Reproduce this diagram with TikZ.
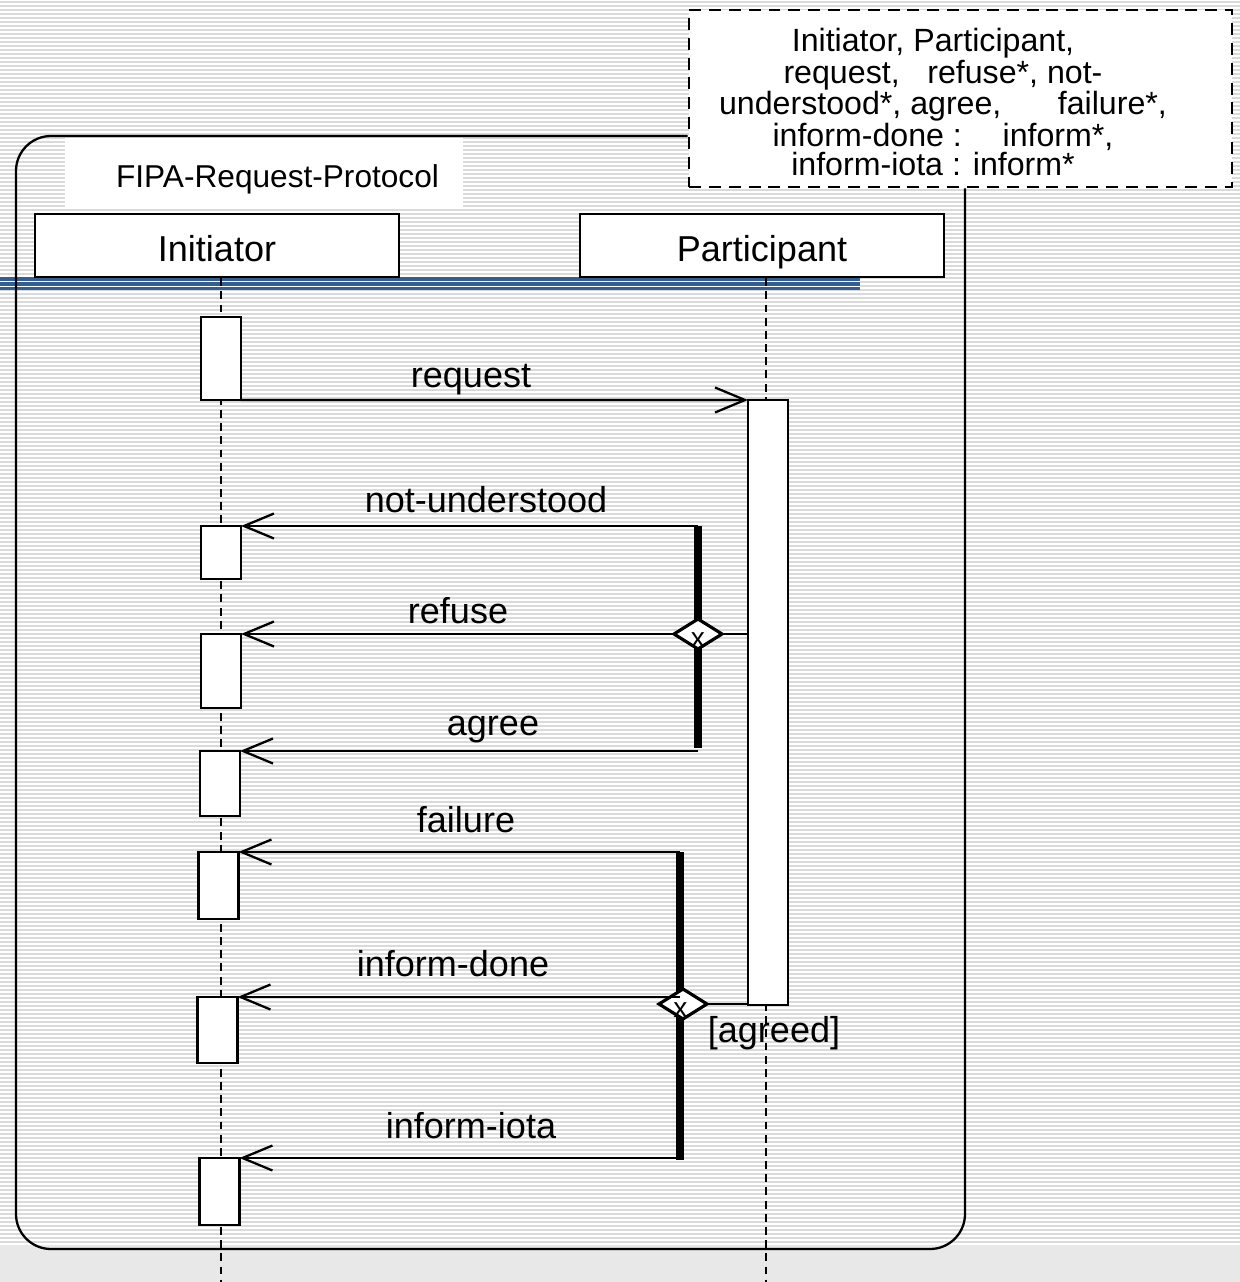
\documentclass[tikz,border=0pt]{standalone}
\usepackage{fontspec}
\setmainfont{Liberation Sans}
\usetikzlibrary{arrows.meta,shapes.geometric}
\definecolor{cBand}{RGB}{52,94,145}
\definecolor{cStripe}{RGB}{218,218,218}
\definecolor{cFloor}{RGB}{232,232,232}
\tikzset{
  lifebox/.style={draw, fill=white, line width=1.4pt, minimum width=7.28cm, minimum height=1.26cm,
    text height=18.7pt, text depth=0pt, inner sep=0pt, font=\fontsize{20.5}{24}\selectfont},
  act/.style={draw, fill=white, line width=1.4pt, minimum width=0.8cm, inner sep=0pt,
    outer sep=0pt, anchor=north},
  lifeline/.style={line width=1.3pt, dash pattern=on 4.5pt off 3pt},
  msg/.style={line width=1.3pt, -{Straight Barb[length=0.6cm,width=0.5cm]}},
  plain/.style={line width=1.3pt},
  lbl/.style={anchor=base, inner sep=0pt, font=\fontsize{20.5}{24}\selectfont},
  bar/.style={line width=4.5pt},
  choice/.style={diamond, draw, fill=white, line width=1.8pt, minimum width=0.96cm,
    minimum height=0.6cm, inner sep=0pt, outer sep=0pt},
  xmark/.style={inner sep=0pt, font=\fontsize{16}{16}\selectfont},
  notebox/.style={draw, fill=white, line width=1.5pt, dash pattern=on 6.8pt off 4.5pt,
    minimum width=10.86cm, minimum height=3.54cm, inner sep=0pt},
  frame/.style={line width=1.3pt, rounded corners=0.7cm},
  stripe/.style={cStripe, line width=0.025cm}
}
\begin{document}
\begin{tikzpicture}[x=0.02cm, y=-0.02cm]
    \useasboundingbox (0,0) rectangle (1240,1282);
    % lined paper
    \foreach \y in {2,6,...,1242}
        \draw[stripe] (0,\y) -- (1240,\y);
    \fill[cFloor] (0,1245) rectangle (1240,1282);
    \fill[white] (65,138) rectangle (463,209);

    % blue rule under the heads
    \fill[cBand] (0,277) rectangle (860,290);
    \draw[white, line width=0.6pt] (0,281.5) -- (860,281.5);
    \draw[white, line width=0.6pt] (0,286.2) -- (860,286.2);

    % note and protocol frame
    \node[notebox] (note) at (960.5,98.5) {};
    \node[align=center, inner sep=0pt, font=\fontsize{18.3}{16.6}\selectfont] (notetxt) at (943,102)
        {Initiator, Participant,\hspace*{0.4cm}\\
         \makebox[6.38cm]{request,\hfill refuse*, not-}\\
         \makebox[8.96cm]{understood*, agree,\hfill failure*,}\\
         \makebox[6.82cm]{inform-done :\hfill inform*,}\\
         inform-iota : inform*\hspace*{0.4cm}};
    \coordinate (ftop) at (0,136);
    \coordinate (fbr) at (965,1249);
    \draw[frame] (note.west |- ftop) -- (16,136) -- (16,1249) -- (fbr) -- (fbr |- note.south);
    \node[anchor=base, inner sep=0pt, font=\fontsize{18}{20}\selectfont] (title) at (277.5,187) {FIPA-Request-Protocol};

    % roles
    \node[lifebox] (ini) at (217,245.5) {Initiator};
    \node[lifebox] (par) at (762,245.5) {Participant};
    \coordinate (iniEnd) at (221,1282);
    \coordinate (parEnd) at (766,1282);
    \draw[lifeline] (iniEnd |- ini.south) -- (iniEnd);
    \draw[lifeline] (parEnd |- par.south) -- (parEnd);

    % activations
    \node[act, minimum height=1.66cm] (a1) at (221,317) {};
    \node[act, minimum height=1.06cm] (a2) at (221,526) {};
    \node[act, minimum height=1.48cm] (a3) at (221,634) {};
    \node[act, minimum height=1.30cm] (a4) at (220,751) {};
    \node[act, minimum height=1.34cm] (a5) at (218.5,852) {};
    \node[act, minimum height=1.32cm] (a6) at (217.5,997) {};
    \node[act, minimum height=1.34cm] (a7) at (219.5,1158) {};
    \node[act, minimum height=12.1cm] (pa) at (768,400) {};

    % choice bars
    \coordinate (b1top) at (698,526);
    \coordinate (b1bot) at (698,748);
    \coordinate (b2top) at (680,852);
    \coordinate (b2bot) at (680,1160);
    \draw[bar] (b1top) -- (b1bot);
    \draw[bar] (b2top) -- (b2bot);
    \node[choice] (dx1) at (698,634) {};
    \node[choice] (dx2) at (683,1004) {};
    \node[xmark] (xm1) at ([yshift=-0.12cm]dx1.center) {x};
    \node[xmark] (xm2) at ([xshift=-0.05cm,yshift=-0.12cm]dx2.center) {x};

    % messages
    \draw[msg] (a1.south east) -- (pa.north west);
    \node[lbl] (lreq) at (471,387) {request};
    \draw[msg] (b1top) -- (a2.north east);
    \node[lbl] (lnu) at (486,512) {not-understood};
    \draw[plain] (dx1.east) -- (dx1 -| pa.west);
    \draw[msg] (dx1.west) -- (a3.north east);
    \node[lbl] (lref) at (458,623) {refuse};
    \draw[msg] (b1bot |- a4.north) -- (a4.north east);
    \node[lbl] (lagr) at (493,735) {agree};

    \draw[msg] (b2top) -- (a5.north east);
    \node[lbl] (lfail) at (466,832) {failure};
    \draw[plain] (dx2.east) -- (dx2 -| pa.west);
    \draw[msg] (b2top |- a6.north) -- (a6.north east);
    \node[lbl] (ldone) at (453,976) {inform-done};
    \draw[msg] (b2bot |- a7.north) -- (a7.north east);
    \node[lbl] (liota) at (471,1138) {inform-iota};
    \node[lbl] (guard) at (774,1042) {[agreed]};
\end{tikzpicture}
\end{document}
